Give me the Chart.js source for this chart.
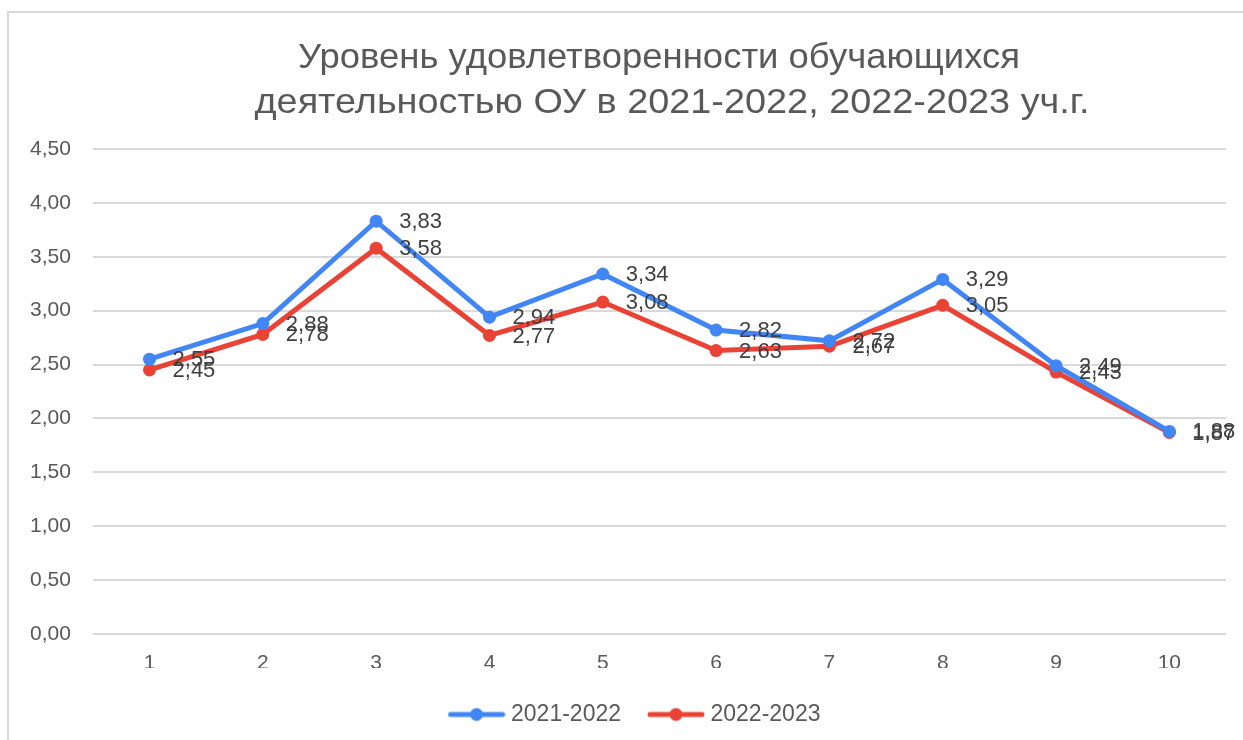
<!DOCTYPE html>
<html lang="ru">
<head>
<meta charset="utf-8">
<title>Уровень удовлетворенности обучающихся</title>
<script src="https://cdn.jsdelivr.net/npm/chart.js@4.4.1/dist/chart.umd.min.js"></script>
<style>
    html, body {
        margin: 0;
        padding: 0;
        background: #ffffff;
        overflow: hidden;
    }
    .frame {
        position: absolute;
        left: 7px;
        top: 11px;
        width: 1260px;
        height: 760px;
        border-top: 2px solid #d9d9d9;
        border-left: 2px solid #d9d9d9;
    }
    .wrap {
        position: absolute;
        left: 0;
        top: 0;
        width: 1243px;
        height: 740px;
    }
</style>
</head>
<body>
<div class="frame"></div>
<div class="wrap"><canvas id="satChart"></canvas></div>
<script>
/* ==========================================
        DATA
========================================== */

const titleLines = [
    "Уровень удовлетворенности обучающихся",
    "деятельностью ОУ в 2021-2022, 2022-2023 уч.г."
];

const categories = ["1", "2", "3", "4", "5", "6", "7", "8", "9", "10"];

const seriesNames = ["2021-2022", "2022-2023"];

const values2021 = [2.55, 2.88, 3.83, 2.94, 3.34, 2.82, 2.72, 3.29, 2.49, 1.88];
const values2022 = [2.45, 2.78, 3.58, 2.77, 3.08, 2.63, 2.67, 3.05, 2.43, 1.87];

const yMin = 0;
const yMax = 4.5;
const yStep = 0.5;

/* ==========================================
        STYLE
========================================== */

const BLUE = "#4285f4";
const RED = "#ea4335";
const TEXT = "#595959";
const LABEL = "#404040";
const GRID = "#d9d9d9";
const FONT = "'Liberation Sans', Arial, sans-serif";

function formatNum(v) {
    return v.toFixed(2).replace(".", ",");
}

/* legend symbol: line with a dot */
function legendIcon(color) {
    const c = document.createElement("canvas");
    c.width = 58;
    c.height = 16;
    const g = c.getContext("2d");
    g.strokeStyle = color;
    g.lineWidth = 5;
    g.lineCap = "round";
    g.beginPath();
    g.moveTo(3, 8);
    g.lineTo(55, 8);
    g.stroke();
    g.fillStyle = color;
    g.beginPath();
    g.arc(29, 8, 6.5, 0, Math.PI * 2);
    g.fill();
    return c;
}

/* ==========================================
        PLUGINS
========================================== */

const titlePlugin = {
    id: "twoLineTitle",
    afterDraw(chart) {
        const ctx = chart.ctx;
        const rows = [
            { text: titleLines[0], cx: 659, y: 68, w: 722 },
            { text: titleLines[1], cx: 672, y: 113, w: 835 }
        ];
        ctx.save();
        ctx.font = "35px " + FONT;
        ctx.fillStyle = TEXT;
        ctx.textBaseline = "alphabetic";
        ctx.textAlign = "center";
        rows.forEach(r => {
            const sx = r.w / ctx.measureText(r.text).width;
            ctx.save();
            ctx.translate(r.cx, 0);
            ctx.scale(sx, 1);
            ctx.fillText(r.text, 0, r.y);
            ctx.restore();
        });
        ctx.restore();
    }
};

const valueLabels = {
    id: "valueLabels",
    afterDatasetsDraw(chart) {
        const ctx = chart.ctx;
        ctx.save();
        ctx.font = "22px " + FONT;
        ctx.fillStyle = LABEL;
        ctx.textAlign = "left";
        ctx.textBaseline = "middle";
        chart.data.datasets.forEach((ds, i) => {
            const meta = chart.getDatasetMeta(i);
            meta.data.forEach((pt, j) => {
                ctx.fillText(formatNum(ds.data[j]), pt.x + 23, pt.y + 1);
            });
        });
        ctx.restore();
    }
};

/* legend: taller box, nudged right and down */
const legendPlace = {
    id: "legendPlace",
    afterInit(chart) {
        const legend = chart.legend;
        if (!legend) return;
        const fit = legend.fit;
        legend.fit = function () {
            fit.call(this);
            this.height = 68;
        };
    },
    afterLayout(chart) {
        const legend = chart.legend;
        if (!legend) return;
        legend.left += 20;
        legend.right += 20;
        legend.top += 3;
        legend.bottom += 3;
    }
};

/* ==========================================
        CHART
========================================== */

const ctx = document.getElementById("satChart").getContext("2d");

new Chart(ctx, {
    type: "line",
    data: {
        labels: categories,
        datasets: [
            {
                label: seriesNames[0],
                data: values2021,
                borderColor: BLUE,
                backgroundColor: BLUE,
                borderWidth: 5,
                pointRadius: 6.5,
                pointStyle: "circle",
                pointBackgroundColor: BLUE,
                pointBorderWidth: 0,
                tension: 0
            },
            {
                label: seriesNames[1],
                data: values2022,
                borderColor: RED,
                backgroundColor: RED,
                borderWidth: 5,
                pointRadius: 6.5,
                pointStyle: "circle",
                pointBackgroundColor: RED,
                pointBorderWidth: 0,
                tension: 0
            }
        ]
    },
    options: {
        responsive: true,
        maintainAspectRatio: false,
        animation: false,
        layout: {
            padding: { left: 8, right: 17, top: 149, bottom: 4 }
        },
        plugins: {
            title: { display: false },
            tooltip: { enabled: false },
            legend: {
                position: "bottom",
                labels: {
                    usePointStyle: true,
                    pointStyleWidth: 46,
                    color: TEXT,
                    font: { size: 23, family: FONT },
                    padding: 32,
                    generateLabels(chart) {
                        return chart.data.datasets.map((ds, i) => ({
                            text: ds.label,
                            fillStyle: ds.borderColor,
                            strokeStyle: ds.borderColor,
                            lineWidth: 0,
                            pointStyle: legendIcon(ds.borderColor),
                            fontColor: TEXT,
                            hidden: false,
                            datasetIndex: i
                        }));
                    }
                }
            }
        },
        scales: {
            x: {
                offset: true,
                grid: { display: false },
                border: { display: false },
                ticks: {
                    color: TEXT,
                    font: { size: 21, family: FONT },
                    padding: 9
                },
                afterFit(scale) {
                    scale.height = 34;
                }
            },
            y: {
                min: yMin,
                max: yMax,
                grid: {
                    color: GRID,
                    lineWidth: 2,
                    drawTicks: false
                },
                border: { display: false },
                ticks: {
                    stepSize: yStep,
                    color: TEXT,
                    font: { size: 21, family: FONT },
                    padding: 22,
                    callback: (v) => formatNum(v)
                }
            }
        }
    },
    plugins: [titlePlugin, valueLabels, legendPlace]
});
</script>
</body>
</html>
